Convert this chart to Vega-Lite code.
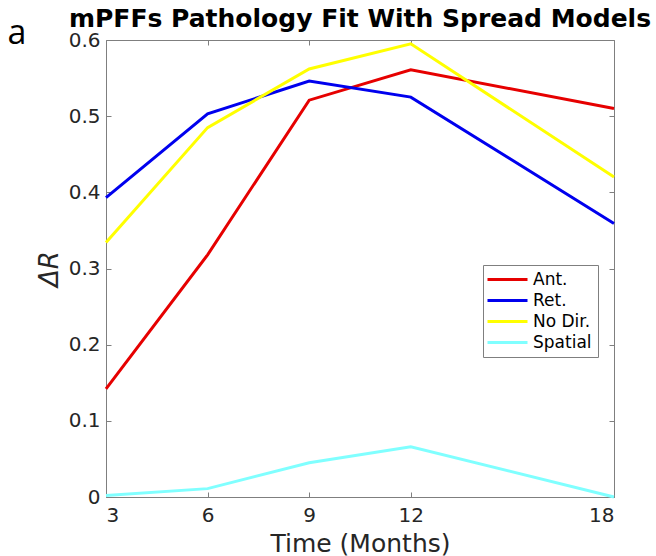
{
  "$schema": "https://vega.github.io/schema/vega-lite/v6.json",
  "autosize": {"type": "none"},
  "padding": {"left": 106, "top": 40, "right": 42, "bottom": 59},
  "width": 508,
  "height": 457,
  "background": "white",
  "title": {
    "text": "mPFFs Pathology Fit With Spread Models",
    "font": "DejaVu Sans",
    "fontSize": 25,
    "fontWeight": "bold",
    "color": "#000000",
    "anchor": "middle",
    "frame": "group",
    "baseline": "alphabetic",
    "offset": -36
  },
  "data": {
    "values": [
      {"Time": 3, "dR": 0.142, "Model": "Ant."},
      {"Time": 6, "dR": 0.318, "Model": "Ant."},
      {"Time": 9, "dR": 0.521, "Model": "Ant."},
      {"Time": 12, "dR": 0.561, "Model": "Ant."},
      {"Time": 18, "dR": 0.510, "Model": "Ant."},
      {"Time": 3, "dR": 0.393, "Model": "Ret."},
      {"Time": 6, "dR": 0.503, "Model": "Ret."},
      {"Time": 9, "dR": 0.546, "Model": "Ret."},
      {"Time": 12, "dR": 0.525, "Model": "Ret."},
      {"Time": 18, "dR": 0.359, "Model": "Ret."},
      {"Time": 3, "dR": 0.334, "Model": "No Dir."},
      {"Time": 6, "dR": 0.485, "Model": "No Dir."},
      {"Time": 9, "dR": 0.562, "Model": "No Dir."},
      {"Time": 12, "dR": 0.595, "Model": "No Dir."},
      {"Time": 18, "dR": 0.420, "Model": "No Dir."},
      {"Time": 3, "dR": 0.002, "Model": "Spatial"},
      {"Time": 6, "dR": 0.011, "Model": "Spatial"},
      {"Time": 9, "dR": 0.045, "Model": "Spatial"},
      {"Time": 12, "dR": 0.066, "Model": "Spatial"},
      {"Time": 18, "dR": 0.000, "Model": "Spatial"}
    ]
  },
  "layer": [
    {
      "mark": {"type": "line", "strokeWidth": 3, "clip": false},
      "encoding": {
        "x": {
          "field": "Time",
          "type": "quantitative",
          "scale": {"domain": [3, 18], "nice": false, "zero": false},
          "axis": {
            "orient": "bottom",
            "values": [3, 6, 9, 12, 18],
            "title": "Time (Months)",
            "labelPadding": 13,
            "titlePadding": 6
          }
        },
        "y": {
          "field": "dR",
          "type": "quantitative",
          "scale": {"domain": [0, 0.6], "nice": false, "zero": false},
          "axis": {
            "orient": "left",
            "values": [0, 0.1, 0.2, 0.3, 0.4, 0.5, 0.6],
            "format": ".1~f",
            "title": "ΔR",
            "titleFontStyle": "italic",
            "titleFontSize": 26,
            "titlePadding": 6
          }
        },
        "color": {
          "field": "Model",
          "type": "nominal",
          "sort": ["Ant.", "Ret.", "No Dir.", "Spatial"],
          "scale": {
            "domain": ["Ant.", "Ret.", "No Dir.", "Spatial"],
            "range": ["#e60000", "#0000ee", "#ffff00", "#80ffff"]
          },
          "legend": {
            "orient": "none",
            "legendX": 377,
            "legendY": 225,
            "title": null,
            "direction": "vertical",
            "symbolType": "M-4,0L4,0",
            "symbolSize": 100,
            "symbolStrokeWidth": 3,
            "symbolOffset": 10,
            "labelOffset": 17,
            "labelFontSize": 17,
            "labelFont": "DejaVu Sans",
            "labelColor": "#000000",
            "rowPadding": 3,
            "padding": 6,
            "strokeColor": "#7f7f7f",
            "fillColor": "#ffffff"
          }
        }
      }
    },
    {
      "mark": {"type": "line", "strokeOpacity": 0},
      "encoding": {
        "x": {
          "field": "Time",
          "type": "quantitative",
          "axis": {
            "orient": "top",
            "values": [3, 6, 9, 12, 18],
            "labels": false,
            "title": "a",
            "titleX": -99,
            "titleY": 3,
            "titleAngle": 0,
            "titleAlign": "left",
            "titleAnchor": "start",
            "titleBaseline": "alphabetic",
            "titleFont": "Open Sans",
            "titleFontSize": 34,
            "titleFontWeight": "normal",
            "titleColor": "#000000"
          }
        },
        "y": {
          "field": "dR",
          "type": "quantitative",
          "axis": {
            "orient": "right",
            "values": [0, 0.1, 0.2, 0.3, 0.4, 0.5, 0.6],
            "labels": false,
            "title": null
          }
        },
        "detail": {"field": "Model", "type": "nominal"}
      }
    }
  ],
  "resolve": {"axis": {"x": "independent", "y": "independent"}},
  "config": {
    "view": {"stroke": null},
    "axis": {
      "grid": false,
      "domain": true,
      "domainColor": "#7f7f7f",
      "domainWidth": 1,
      "ticks": true,
      "tickColor": "#7f7f7f",
      "tickSize": -5,
      "tickWidth": 1,
      "minExtent": 0,
      "labelFont": "DejaVu Sans",
      "labelFontSize": 20,
      "labelColor": "#262626",
      "labelPadding": 11,
      "titleFont": "DejaVu Sans",
      "titleFontSize": 25,
      "titleFontWeight": "normal",
      "titleColor": "#262626"
    }
  }
}
